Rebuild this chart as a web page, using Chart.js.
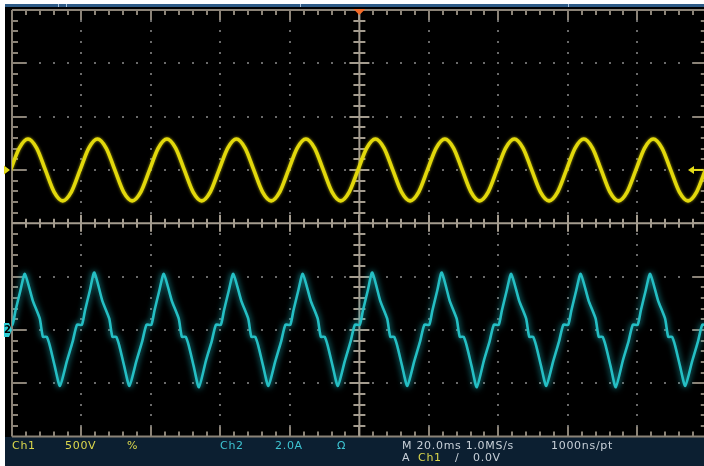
<!DOCTYPE html>
<html>
<head>
<meta charset="utf-8">
<title>Ch1 / Ch2 waveform capture</title>
<script src="https://cdn.jsdelivr.net/npm/chart.js@4/dist/chart.umd.min.js"></script>
<style>
  html, body { margin: 0; padding: 0; background: #ffffff; }
  #scope { position: relative; width: 704px; height: 466px; overflow: hidden; background: #ffffff; }
  #screen { position: absolute; left: 5px; top: 7px; width: 699px; height: 430px; background: #000000; }
  #topbar { position: absolute; left: 5px; top: 4px; width: 699px; height: 3px; background: #2d5b87; }
  .rec { position: absolute; top: 4px; width: 1px; height: 3px; background: #a9c3dc; }
  #status { position: absolute; left: 5px; top: 437px; width: 699px; height: 29px; background: #0c1f31; }
  #wave { position: absolute; left: 0; top: 0; }
  .lbl { position: absolute; font: 11px "DejaVu Sans", sans-serif; letter-spacing: 0.7px; line-height: 12px; white-space: nowrap; }
  .c1 { color: #dcd84c; }
  .c2 { color: #3ec4d2; }
  .sys { color: #c8d0d8; }
</style>
</head>
<body>
<div id="scope">
  <div id="screen"></div>
  <div id="topbar"></div>
  <div class="rec" style="left:58px"></div>
  <div class="rec" style="left:66px"></div>
  <div class="rec" style="left:300px"></div>
  <div class="rec" style="left:568px"></div>
  <div id="status"></div>
  <canvas id="wave" width="704" height="466"></canvas>

  <div class="lbl c1" style="left:12px;top:440px">Ch1</div>
  <div class="lbl c1" style="left:65px;top:440px">500V</div>
  <div class="lbl c1" style="left:127px;top:440px">%</div>
  <div class="lbl c2" style="left:220px;top:440px">Ch2</div>
  <div class="lbl c2" style="left:275px;top:440px">2.0A</div>
  <div class="lbl c2" style="left:337px;top:440px">Ω</div>
  <div class="lbl sys" style="left:402px;top:440px">M 20.0ms 1.0MS/s</div>
  <div class="lbl sys" style="left:551px;top:440px">1000ns/pt</div>
  <div class="lbl sys" style="left:402px;top:452px">A</div>
  <div class="lbl c1" style="left:418px;top:452px">Ch1</div>
  <div class="lbl sys" style="left:455px;top:452px">∕</div>
  <div class="lbl sys" style="left:473px;top:452px">0.0V</div>
</div>

<script>
// Acquisition settings (as shown in the status bar)
const MS_PER_DIV = 20.0;
const VOLTS_PER_DIV = 500;
const AMPS_PER_DIV = 2.0;
const CH1_POSITION_DIV = 1;    // Ch1 ground marker position
const CH2_POSITION_DIV = -2;   // Ch2 ground marker position
const TRIGGER_LEVEL_V = 0.0;
const TIME_START_MS = -100;    // left edge of the screen, trigger at 0 ms
const TIME_END_MS = 99.2;      // right edge of the visible window

// Ch1: line voltage samples (ms, V)
const ch1TimeMs = [
  -100.4, -97.9, -95.4, -92.9, -90.4, -87.9, -85.4, -82.9,
  -80.4, -77.9, -75.4, -72.9, -70.4, -67.9, -65.4, -62.9,
  -60.4, -57.9, -55.4, -52.9, -50.4, -47.9, -45.4, -42.9,
  -40.4, -37.9, -35.4, -32.9, -30.4, -27.9, -25.4, -22.9,
  -20.4, -17.9, -15.4, -12.9, -10.4, -7.9, -5.4, -2.9,
  -0.4, 2.1, 4.6, 7.1, 9.6, 12.1, 14.6, 17.1,
  19.6, 22.1, 24.6, 27.1, 29.6, 32.1, 34.6, 37.1,
  39.6, 42.1, 44.6, 47.1, 49.6, 52.1, 54.6, 57.1,
  59.6, 62.1, 64.6, 67.1, 69.6, 72.1, 74.6, 77.1,
  79.6, 82.1, 84.6, 87.1, 89.6, 92.1, 94.6, 97.1,
  99.6, 102.1
];
const ch1Volts = [
  0, 205, 290, 205, 0, -205, -290, -205,
  0, 205, 290, 205, 0, -205, -290, -205,
  0, 205, 290, 205, 0, -205, -290, -205,
  0, 205, 290, 205, 0, -205, -290, -205,
  0, 205, 290, 205, 0, -205, -290, -205,
  0, 205, 290, 205, 0, -205, -290, -205,
  0, 205, 290, 205, 0, -205, -290, -205,
  0, 205, 290, 205, 0, -205, -290, -205,
  0, 205, 290, 205, 0, -205, -290, -205,
  0, 205, 290, 205, 0, -205, -290, -205,
  0, 205
];

// Ch2: load current samples (ms, A)
const ch2TimeMs = [
  -101.3, -99.9, -99.0, -97.6,
  -96.3, -94.0, -92.0, -91.1, -90.0, -89.1, -87.7, -86.2, -84.2, -82.5, -81.3, -79.9, -79.0, -77.6,
  -76.3, -74.0, -72.0, -71.1, -70.0, -69.1, -67.7, -66.2, -64.2, -62.5, -61.3, -59.9, -59.0, -57.6,
  -56.3, -54.0, -52.0, -51.1, -50.0, -49.1, -47.7, -46.2, -44.2, -42.5, -41.3, -39.9, -39.0, -37.6,
  -36.3, -34.0, -32.0, -31.1, -30.0, -29.1, -27.7, -26.2, -24.2, -22.5, -21.3, -19.9, -19.0, -17.6,
  -16.3, -14.0, -12.0, -11.1, -10.0, -9.1, -7.7, -6.2, -4.2, -2.5, -1.3, 0.1, 1.0, 2.4,
  3.7, 6.0, 8.0, 8.9, 10.0, 10.9, 12.3, 13.8, 15.8, 17.5, 18.7, 20.1, 21.0, 22.4,
  23.7, 26.0, 28.0, 28.9, 30.0, 30.9, 32.3, 33.8, 35.8, 37.5, 38.7, 40.1, 41.0, 42.4,
  43.7, 46.0, 48.0, 48.9, 50.0, 50.9, 52.3, 53.8, 55.8, 57.5, 58.7, 60.1, 61.0, 62.4,
  63.7, 66.0, 68.0, 68.9, 70.0, 70.9, 72.3, 73.8, 75.8, 77.5, 78.7, 80.1, 81.0, 82.4,
  83.7, 86.0, 88.0, 88.9, 90.0, 90.9, 92.3, 93.8, 95.8, 97.5, 98.7, 100.1, 101.0, 102.4
];
const ch2Amps = [
  0.19, 0.19, 0.72, 1.47,
  2.10, 1.09, 0.42, -0.26, -0.26, -0.60, -1.36, -2.10, -1.17, -0.42, 0.19, 0.19, 0.72, 1.47,
  2.15, 1.09, 0.42, -0.26, -0.26, -0.60, -1.36, -2.10, -1.17, -0.42, 0.19, 0.19, 0.72, 1.47,
  2.10, 1.09, 0.42, -0.26, -0.26, -0.60, -1.36, -2.15, -1.17, -0.42, 0.19, 0.19, 0.72, 1.47,
  2.10, 1.09, 0.42, -0.26, -0.26, -0.60, -1.36, -2.10, -1.17, -0.42, 0.19, 0.19, 0.72, 1.47,
  2.10, 1.09, 0.42, -0.26, -0.26, -0.60, -1.36, -2.10, -1.17, -0.42, 0.19, 0.19, 0.72, 1.47,
  2.15, 1.09, 0.42, -0.26, -0.26, -0.60, -1.36, -2.10, -1.17, -0.42, 0.19, 0.19, 0.72, 1.47,
  2.15, 1.09, 0.42, -0.26, -0.26, -0.60, -1.36, -2.15, -1.17, -0.42, 0.19, 0.19, 0.72, 1.47,
  2.10, 1.09, 0.42, -0.26, -0.26, -0.60, -1.36, -2.10, -1.17, -0.42, 0.19, 0.19, 0.72, 1.47,
  2.10, 1.09, 0.42, -0.26, -0.26, -0.60, -1.36, -2.15, -1.17, -0.42, 0.19, 0.19, 0.72, 1.47,
  2.10, 1.09, 0.42, -0.26, -0.26, -0.60, -1.36, -2.10, -1.17, -0.42, 0.19, 0.19, 0.72, 1.47
];

// Convert channel samples to screen divisions
const ch1Points = ch1TimeMs.map((t, i) => ({ x: t, y: ch1Volts[i] / VOLTS_PER_DIV + CH1_POSITION_DIV }));
const ch2Points = ch2TimeMs.map((t, i) => ({ x: t, y: ch2Amps[i] / AMPS_PER_DIV + CH2_POSITION_DIV }));

const GRID = { border: '#8b8377', cross: '#a49c8f', dot: '#6a6a6a' };

// Graticule: border with ticks, dotted division lines, centre cross
const graticule = {
  id: 'graticule',
  beforeDatasetsDraw(chart) {
    const ctx = chart.ctx, xs = chart.scales.x, ys = chart.scales.y;
    const X = d => xs.getPixelForValue(TIME_START_MS + d * MS_PER_DIV);
    const Y = v => ys.getPixelForValue(v);
    const L = X(0), R = X(10), T = Y(4), B = Y(-4), CX = X(5), CY = Y(0);
    ctx.save();

    ctx.fillStyle = GRID.dot;
    for (let d = 1; d < 10; d++) {
      if (d === 5) continue;
      for (let k = 1; k < 40; k++) ctx.fillRect(Math.round(X(d)) - 1, Math.round(Y(-4 + k * 0.2)) - 1, 2, 2);
    }
    for (let v = -3; v <= 3; v++) {
      if (v === 0) continue;
      for (let k = 1; k < 50; k++) ctx.fillRect(Math.round(X(k * 0.2)) - 1, Math.round(Y(v)) - 1, 2, 2);
    }

    const seg = (x1, y1, x2, y2) => { ctx.beginPath(); ctx.moveTo(x1, y1); ctx.lineTo(x2, y2); ctx.stroke(); };
    ctx.lineWidth = 2;
    ctx.strokeStyle = GRID.border;
    seg(L, T, R, T); seg(L, B, R, B); seg(L, T, L, B); seg(R, T, R, B);
    for (let k = 1; k < 50; k++) {
      const x = Math.round(X(k * 0.2)), len = k % 5 === 0 ? 10 : 5;
      seg(x, T, x, T + len);
      seg(x, B, x, B - len);
    }
    for (let k = 1; k < 40; k++) {
      const y = Math.round(Y(-4 + k * 0.2)), len = k % 5 === 0 ? 14 : 6;
      seg(L, y, L + len, y);
      seg(R, y, R - len, y);
    }

    ctx.strokeStyle = GRID.cross;
    seg(CX, T, CX, B);
    seg(L, CY, R, CY);
    for (let k = 1; k < 40; k++) {
      const y = Math.round(Y(-4 + k * 0.2)), h = k % 5 === 0 ? 10 : 6;
      seg(CX - h, y, CX + h, y);
    }
    for (let k = 1; k < 50; k++) {
      const x = Math.round(X(k * 0.2)), h = k % 5 === 0 ? 8.5 : 4.5;
      seg(x, CY - h, x, CY + h);
    }
    ctx.restore();
  }
};

// Soft phosphor glow around each trace
const glow = {
  id: 'glow',
  beforeDatasetDraw(chart, args) {
    const ds = chart.data.datasets[args.index];
    chart.ctx.save();
    chart.ctx.shadowColor = ds.glowColor;
    chart.ctx.shadowBlur = ds.glowBlur;
  },
  afterDatasetDraw(chart) { chart.ctx.restore(); }
};

// Ground markers, trigger position and trigger level indicators
const markers = {
  id: 'markers',
  afterDatasetsDraw(chart) {
    const ctx = chart.ctx, xs = chart.scales.x, ys = chart.scales.y;
    const yCh1 = ys.getPixelForValue(CH1_POSITION_DIV);
    const yCh2 = ys.getPixelForValue(CH2_POSITION_DIV);
    const yTrig = ys.getPixelForValue(TRIGGER_LEVEL_V / VOLTS_PER_DIV + CH1_POSITION_DIV);
    const xTrig = xs.getPixelForValue(0);
    const top = chart.chartArea.top, right = chart.width;
    ctx.save();

    ctx.fillStyle = '#e4dc18';
    ctx.beginPath();
    ctx.moveTo(4, yCh1 - 4.5); ctx.lineTo(10, yCh1); ctx.lineTo(4, yCh1 + 4.5);
    ctx.closePath(); ctx.fill();

    ctx.fillStyle = '#2fd0d8';
    ctx.beginPath();
    ctx.moveTo(4, yCh2 - 7); ctx.lineTo(9, yCh2 - 7); ctx.lineTo(12, yCh2);
    ctx.lineTo(9, yCh2 + 7); ctx.lineTo(4, yCh2 + 7);
    ctx.closePath(); ctx.fill();
    ctx.fillStyle = '#000';
    ctx.font = 'bold 10px "DejaVu Sans"';
    ctx.textBaseline = 'middle';
    ctx.fillText('2', 4, yCh2 + 0.5);

    ctx.fillStyle = '#f26a28';
    ctx.beginPath();
    ctx.moveTo(xTrig - 6, top - 1); ctx.lineTo(xTrig + 6, top - 1); ctx.lineTo(xTrig, top + 5);
    ctx.closePath(); ctx.fill();

    ctx.fillStyle = '#e4dc18';
    ctx.strokeStyle = '#e4dc18';
    ctx.lineWidth = 2;
    ctx.beginPath();
    ctx.moveTo(right - 16, yTrig); ctx.lineTo(right - 10, yTrig - 4); ctx.lineTo(right - 10, yTrig + 4);
    ctx.closePath(); ctx.fill();
    ctx.beginPath(); ctx.moveTo(right - 11, yTrig); ctx.lineTo(right - 1, yTrig); ctx.stroke();
    ctx.restore();
  }
};

new Chart(document.getElementById('wave'), {
  type: 'scatter',
  data: {
    datasets: [
      {
        label: 'Ch1',
        data: ch1Points,
        showLine: true,
        borderColor: '#e2d80c',
        borderWidth: 3.6,
        pointRadius: 0,
        cubicInterpolationMode: 'monotone',
        glowColor: 'rgba(226,216,12,0.7)',
        glowBlur: 3,
        clip: 0
      },
      {
        label: 'Ch2',
        data: ch2Points,
        showLine: true,
        borderColor: '#25bfc4',
        borderWidth: 2.6,
        pointRadius: 0,
        tension: 0.2,
        glowColor: 'rgba(30,185,195,0.95)',
        glowBlur: 6,
        clip: 0
      }
    ]
  },
  options: {
    responsive: false,
    animation: false,
    devicePixelRatio: 1,
    layout: { padding: { left: 12, top: 10, right: 0, bottom: 29.5 } },
    plugins: { legend: { display: false }, tooltip: { enabled: false } },
    events: [],
    scales: {
      x: { type: 'linear', min: TIME_START_MS, max: TIME_END_MS, display: false },
      y: { type: 'linear', min: -4, max: 4, display: false }
    }
  },
  plugins: [graticule, glow, markers]
});
</script>
</body>
</html>
